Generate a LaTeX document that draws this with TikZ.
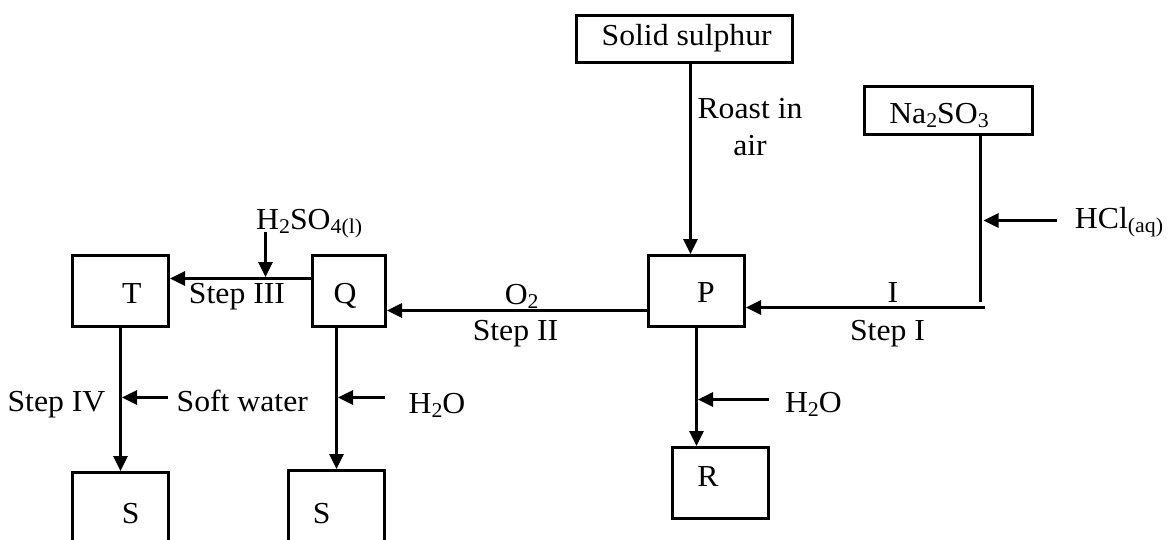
\documentclass[tikz,border=0pt]{standalone}
\usepackage{fontspec}
\setmainfont{Liberation Serif}[FakeStretch=1.04]
\usetikzlibrary{arrows.meta}
\newcommand\chemsub[1]{\raisebox{-4pt}{\fontsize{21pt}{23pt}\selectfont #1}}
\begin{document}
\begin{tikzpicture}[x=1pt,y=-1pt,
  box/.style={draw, line width=3pt, inner sep=0pt, minimum width=96pt, minimum height=71pt},
  txt/.style={font=\fontsize{30.5pt}{36pt}\selectfont, inner sep=0pt, anchor=base},
  conn/.style={line width=3pt},
  arr/.style={line width=3pt, -{Triangle[length=15pt,width=14pt]}}]
\clip (0,0) rectangle (1170,539);
% boxes
\node[box, minimum width=216pt, minimum height=47pt] (ss) at (684.5,39) {};
\node[box, minimum width=168pt, minimum height=48pt] (na) at (948.5,110.5) {};
\node[box] (P) at (696.5,291) {};
\node[box, minimum width=73pt] (Q) at (349,291) {};
\node[box] (T) at (120.5,291) {};
\node[box] (R) at (720.5,483) {};
\node[box] (S1) at (120.5,508) {};
\node[box] (S2) at (336.5,506) {};
% texts
\node[txt] (tss) at (686.7,45.7) {Solid sulphur};
\node[txt] (troast) at (750,118.3) {Roast in};
\node[txt] (tair) at (750,155) {air};
\node[txt] (tna) at (939,123.3) {Na\chemsub{2}SO\chemsub{3}};
\node[txt] (thcl) at (1119,228.3) {HCl\chemsub{(aq)}};
\node[txt] (tI) at (893,302.7) {I};
\node[txt] (tstepI) at (887.5,340) {Step I};
\node[txt] (tP) at (706,302.7) {P};
\node[txt] (tO2) at (521.7,304) {O\chemsub{2}};
\node[txt] (tstepII) at (515.5,340) {Step II};
\node[txt] (tQ) at (345,303.3) {Q};
\node[txt] (tT) at (131.7,303.3) {T};
\node[txt] (tstepIII) at (237,303.3) {Step III};
\node[txt] (th2so4) at (309.2,229.3) {H\chemsub{2}SO\chemsub{4(l)}};
\node[txt] (tR) at (708,486.7) {R};
\node[txt] (th2oa) at (813.4,412.7) {H\chemsub{2}O};
\node[txt] (th2ob) at (437,413.3) {H\chemsub{2}O};
\node[txt] (tsoft) at (242.3,411.7) {Soft water};
\node[txt] (tstepIV) at (56.5,411.7) {Step IV};
\node[txt] (tSa) at (130.7,523.3) {S};
\node[txt] (tSb) at (321.7,523.3) {S};
% connectors
\draw[arr] ([xshift=6pt]ss.south) -- ([xshift=6pt]ss.south |- P.north);
\coordinate (c1) at (980.5,302);
\draw[conn] (c1 |- na.south) -- (c1);
\coordinate (c2) at (985,307.5);
\draw[arr] (c2) -- (c2 -| P.east);
\coordinate (hcl) at (1057,220.5);
\coordinate (hcle) at (hcl -| c1);
\draw[arr] (hcl) -- ([xshift=3pt]hcle);
\draw[arr] ([yshift=-19.5pt]P.west) -- ([yshift=-19.5pt]P.west -| Q.east);
\coordinate (qt) at ([yshift=12.5pt]Q.west);
\draw[arr] (qt) -- (qt -| T.east);
\coordinate (h2s) at (265.5,232);
\coordinate (h2se) at (h2s |- qt);
\draw[arr] (h2s) -- ([yshift=1.5pt]h2se);
\draw[arr] (P.south) -- (P.south |- R.north);
\coordinate (w1) at (769,399.5);
\coordinate (w1e) at (w1 -| P.south);
\draw[arr] (w1) -- ([xshift=1.5pt]w1e);
\draw[arr] (T.south) -- (S1.north);
\coordinate (w2) at (168,397.5);
\coordinate (w2e) at (w2 -| T.south);
\draw[arr] (w2) -- ([xshift=1.5pt]w2e);
\coordinate (qs) at ([xshift=-12.5pt]Q.south);
\draw[arr] (qs) -- (qs |- S2.north);
\coordinate (w3) at (385,397.5);
\coordinate (w3e) at (w3 -| qs);
\draw[arr] (w3) -- ([xshift=1.5pt]w3e);
\end{tikzpicture}
\end{document}
